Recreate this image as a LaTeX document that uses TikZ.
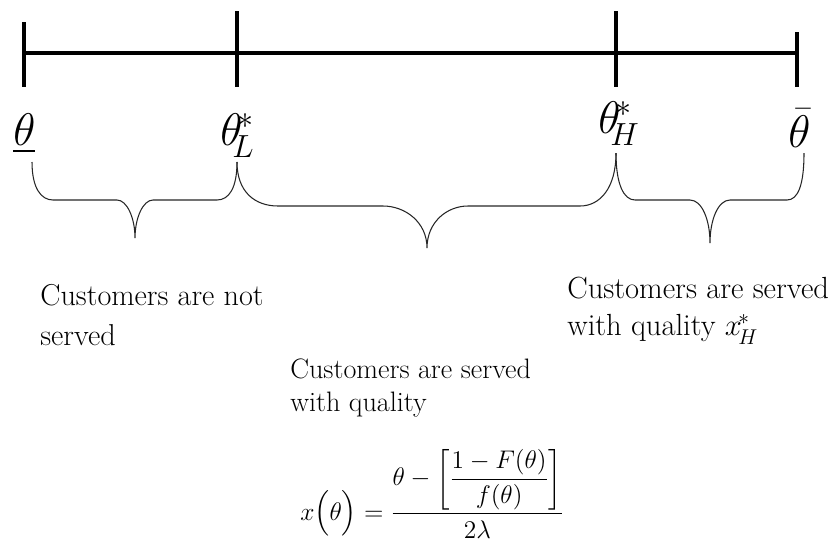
\RequirePackage{fix-cm}
\documentclass[tikz,border=0pt]{standalone}
\usepackage{amsmath}
\usetikzlibrary{positioning}

\begin{document}
\begin{tikzpicture}[x=0.02cm, y=-0.02cm,
  axis/.style={line width=2pt},
  brc/.style={line width=0.6pt, black!85},
  pt/.style={inner sep=0pt, anchor=base west, font=\fontsize{26}{30}\selectfont},
  txt/.style={inner sep=0pt, anchor=north west, align=left}
]
\useasboundingbox (0,0) rectangle (831,542);
% axis with its ticks
\coordinate (lo) at (24,53);
\coordinate (L) at (237,53);
\coordinate (H) at (616,53);
\coordinate (hi) at (797,53);
\draw[axis] (lo) -- (hi);
\draw[axis] (24,22) -- (24,87);
\draw[axis] (237,11) -- (237,87);
\draw[axis] (616,11) -- (616,87);
\draw[axis] (797,32) -- (797,87);
% type labels
\node[pt] (thlo) at (13,145) {$\underline{\theta}$};
\node[pt] (thL) at (220,145) {$\theta^{\mkern-3mu *}_{\mkern-5mu L}$};
\node[pt] (thH) at (598,133) {$\theta^{\mkern-3mu *}_{\mkern-5mu H}$};
\node[pt] (thhi) at (788,147) {$\bar{\theta}$};
% braces
\draw[brc] (32,162) .. controls (32,188) and (41,200) .. (53,200) -- (117,200)
  .. controls (127,200) and (135,218) .. (135,238)
  .. controls (135,218) and (143,200) .. (153,200) -- (217,200)
  .. controls (229,200) and (237,188) .. (237,162);
\draw[brc] (237,162) .. controls (237,192) and (255,206) .. (278,206) -- (383,206)
  .. controls (405,206) and (427,222) .. (427,248)
  .. controls (427,222) and (447,206) .. (468,206) -- (580,206)
  .. controls (600,206) and (616,188) .. (616,153);
\draw[brc] (616,153) .. controls (616,185) and (624,200) .. (635,200) -- (690,200)
  .. controls (702,200) and (710,220) .. (710,243)
  .. controls (710,220) and (718,200) .. (730,200) -- (787,200)
  .. controls (798,200) and (804,185) .. (804,153);
% what each group gets
\node[txt, font=\fontsize{17.2}{22.5}\selectfont] (notserved) at (40,284)
  {Customers are not\\served};
\node[txt, font=\fontsize{16}{19}\selectfont] (served) at (290,358)
  {Customers are served\\with quality};
\node[txt, font=\fontsize{17.4}{21}\selectfont] (servedH) at (567,277)
  {Customers are served\\with quality $x^{\mkern-3mu *}_{\mkern-3mu H}$};
\node[inner sep=0pt, anchor=base west, font=\fontsize{14.5}{17}\selectfont] (xrule) at (300,520)
  {$\displaystyle x\Bigl(\theta\Bigr) = \frac{\theta - \biggl[\dfrac{1-F(\theta)}{f(\theta)}\biggr]}{\rule{0pt}{12pt}2\lambda}$};
\end{tikzpicture}
\end{document}
